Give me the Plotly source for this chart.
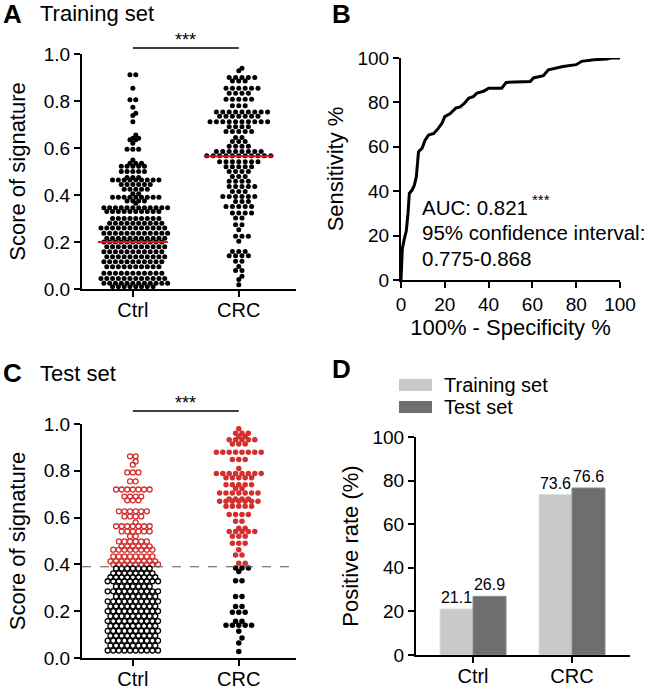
import numpy as np
import plotly.graph_objects as go

# ---- data ----
# panel A: training set scores (row value, number of dots in that row)
ctrl_train_levels = [0.912, 0.854, 0.805, 0.773, 0.748, 0.738, 0.712, 0.655, 0.642, 0.635, 0.62,
                     0.595, 0.549, 0.535, 0.522, 0.50, 0.474, 0.464, 0.445, 0.425, 0.405, 0.39,
                     0.375, 0.365, 0.346, 0.33, 0.30, 0.28, 0.26, 0.237, 0.216, 0.20, 0.18,
                     0.159, 0.137, 0.116, 0.095, 0.067, 0.045, 0.024, 0.01]
ctrl_train_counts = [2, 1, 2, 1, 1, 1, 1, 1, 2, 2, 1,
                     3, 1, 3, 5, 5, 3, 9, 6, 5, 2, 9,
                     4, 1, 12, 10, 9, 10, 12, 12, 11, 11, 11,
                     11, 11, 11, 10, 11, 12, 12, 8]
crc_train_levels = [0.939, 0.929, 0.90, 0.885, 0.854, 0.833, 0.807, 0.78, 0.753, 0.735, 0.712,
                    0.69, 0.67, 0.645, 0.628, 0.607, 0.585, 0.567, 0.542, 0.52, 0.50, 0.479,
                    0.458, 0.436, 0.415, 0.394, 0.372, 0.351, 0.323, 0.302, 0.273, 0.252,
                    0.224, 0.203, 0.16, 0.142, 0.118, 0.096, 0.079, 0.054, 0.04, 0.018]
crc_train_counts = [1, 1, 5, 3, 6, 4, 5, 3, 9, 7, 10,
                    4, 5, 2, 3, 4, 8, 11, 7, 5, 4, 3,
                    4, 5, 3, 6, 3, 5, 4, 2, 2, 1,
                    3, 1, 3, 4, 2, 1, 2, 1, 1, 1]
train_medians = [0.20, 0.565]

# panel B: ROC curve (%)
roc_fpr = [0, 0.3, 0.6, 1.5, 2.4, 3.2, 3.8, 5, 6.1, 7, 7.6, 8, 9.6, 11, 12.6, 15, 17, 18.7,
           20, 22.5, 25, 27, 29, 31, 33, 34.7, 37.7, 40, 46, 48, 59, 60.5, 65, 67.3, 74,
           80, 82.5, 88, 94, 96, 100]
roc_tpr = [0, 6, 14, 18.5, 22, 30, 39, 40.4, 42.7, 46.5, 55.5, 57.8, 59.3, 63, 65.3, 66, 68.3,
           70.6, 73.6, 75, 77.4, 78, 79.6, 82, 82.6, 84.2, 85, 86.4, 86.4, 89, 89.4, 91, 92,
           94.7, 96.2, 97, 98.5, 99.2, 99.5, 100, 100]

# panel C: test set scores
ctrl_test_levels = [0.862, 0.84, 0.826, 0.793, 0.755, 0.72, 0.69, 0.674, 0.627, 0.605, 0.58,
                    0.563, 0.541, 0.52, 0.498, 0.477, 0.463, 0.434, 0.413, 0.40,
                    0.383, 0.362, 0.345, 0.328, 0.306, 0.285, 0.263, 0.242, 0.221, 0.20,
                    0.179, 0.158, 0.137, 0.116, 0.095, 0.074, 0.053, 0.032]
ctrl_test_counts = [2, 1, 1, 3, 2, 7, 4, 3, 6, 4, 1,
                    7, 6, 2, 6, 6, 8, 8, 9, 9,
                    7, 8, 9, 10, 7, 10, 8, 10, 9, 10,
                    9, 10, 9, 10, 9, 10, 9, 10]
crc_test_levels = [0.98, 0.96, 0.947, 0.933, 0.915, 0.879, 0.848, 0.81, 0.788, 0.77, 0.74,
                   0.724, 0.705, 0.68, 0.67, 0.648, 0.613, 0.584, 0.555, 0.541, 0.52, 0.49,
                   0.463, 0.44, 0.405, 0.385, 0.37, 0.33, 0.263, 0.22, 0.195, 0.157, 0.14,
                   0.114, 0.085, 0.064, 0.028]
crc_test_counts = [1, 3, 2, 5, 3, 8, 3, 1, 8, 5, 5,
                   2, 7, 4, 7, 5, 4, 2, 2, 5, 3, 3,
                   1, 2, 2, 3, 1, 2, 2, 2, 3, 2, 5,
                   1, 1, 1, 1]
cutoff = 0.39

# panel D: positive rate (%)
groups = ['Ctrl', 'CRC']
rate_training = [21.1, 73.6]
rate_test = [26.9, 76.6]

FONT = 'Liberation Sans, Arial, sans-serif'
RED = '#d42f2f'
W, H = 653, 689


def px(x):
    return x / W


def py(y):
    return 1 - y / H


def rows(levels, counts, s, xs, ys, d=5.0):
    # GraphPad-like rows: dots of one row side by side, close rows shifted by half a step
    vals, offs = [], []
    last_y, last_phase = None, None
    for lv, n in sorted(zip(levels, counts)):
        phase = ((n - 1) / 2.0) % 1.0
        if last_y is not None and abs(lv - last_y) * ys < d and abs(phase - last_phase) < 1e-6:
            phase = (phase + 0.5) % 1.0
            shift = 0.5
        else:
            shift = 0.0
        for i in range(n):
            vals.append(lv)
            offs.append((i - (n - 1) / 2.0 + shift) * s / xs)
        last_y, last_phase = lv, phase
    return np.array(vals), np.array(offs)


fig = go.Figure()
black = dict(color='black', size=5)

# ---- A ----
ct, oct_ = rows(ctrl_train_levels, ctrl_train_counts, 5.8, 106, 235)
rt, ort = rows(crc_train_levels, crc_train_counts, 6.4, 106, 235)
fig.add_trace(go.Scatter(x=oct_, y=ct, mode='markers', marker=black,
                         xaxis='x', yaxis='y', showlegend=False))
fig.add_trace(go.Scatter(x=1 + ort, y=rt, mode='markers', marker=black,
                         xaxis='x', yaxis='y', showlegend=False))
for k, m in enumerate(train_medians):
    fig.add_trace(go.Scatter(x=[k - 0.33, k + 0.33], y=[m, m], mode='lines',
                             line=dict(color='#e3131b', width=2), xaxis='x', yaxis='y',
                             showlegend=False))

# ---- B ----
fig.add_trace(go.Scatter(x=roc_fpr, y=roc_tpr, mode='lines', line=dict(color='black', width=3),
                         xaxis='x2', yaxis='y2', showlegend=False, cliponaxis=False))

# ---- C ----
cc, oc = rows(ctrl_test_levels, ctrl_test_counts, 5.6, 106, 234)
rc, orc = rows(crc_test_levels, crc_test_counts, 6.4, 106, 234)
hi = cc >= cutoff
fig.add_trace(go.Scatter(x=oc[hi], y=cc[hi], mode='markers',
                         marker=dict(symbol='circle-open', color=RED, size=5, line=dict(width=1.3)),
                         xaxis='x3', yaxis='y3', showlegend=False))
fig.add_trace(go.Scatter(x=oc[~hi], y=cc[~hi], mode='markers',
                         marker=dict(symbol='circle-open', color='black', size=5, line=dict(width=1.3)),
                         xaxis='x3', yaxis='y3', showlegend=False))
hi2 = rc >= cutoff
fig.add_trace(go.Scatter(x=1 + orc[hi2], y=rc[hi2], mode='markers', marker=dict(color=RED, size=5.5),
                         xaxis='x3', yaxis='y3', showlegend=False))
fig.add_trace(go.Scatter(x=1 + orc[~hi2], y=rc[~hi2], mode='markers', marker=dict(color='black', size=5.5),
                         xaxis='x3', yaxis='y3', showlegend=False))
fig.add_trace(go.Scatter(x=[-0.48, 1.54], y=[cutoff, cutoff], mode='lines',
                         line=dict(color='#555555', width=1.2, dash='dash'),
                         xaxis='x3', yaxis='y3', showlegend=False))

# ---- D ----
fig.add_trace(go.Bar(x=groups, y=rate_training, name='Training set', marker_color='#c9c9c9',
                     marker_line=dict(color='#e0e0e0', width=1),
                     texttemplate='%{y:.1f}', textposition='outside', textfont=dict(size=16),
                     cliponaxis=False, xaxis='x4', yaxis='y4', showlegend=False))
fig.add_trace(go.Bar(x=groups, y=rate_test, name='Test set', marker_color='#6e6e6e',
                     marker_line=dict(color='#8a8a8a', width=1),
                     texttemplate='%{y:.1f}', textposition='outside', textfont=dict(size=16),
                     cliponaxis=False, xaxis='x4', yaxis='y4', showlegend=False))

axis = dict(showline=True, linecolor='black', linewidth=2, ticks='outside', ticklen=6,
            tickwidth=2, tickcolor='black', showgrid=False, zeroline=False, automargin=False,
            tickfont=dict(size=19, color='black'))
xcat = dict(tickfont=dict(size=20, color='black'), ticklabelstandoff=-4)
ttl = dict(size=22, color='black')

fig.update_layout(
    template='none',
    width=W, height=H, margin=dict(l=0, r=0, t=0, b=0, autoexpand=False), plot_bgcolor='white',
    paper_bgcolor='white', font=dict(family=FONT, color='black'),
    barmode='group', bargap=0.333, bargroupgap=0,
    xaxis=dict(axis, **xcat, domain=[px(82), px(296)], range=[-0.48, 1.54], tickvals=[0, 1],
               ticktext=groups, anchor='y'),
    yaxis=dict(axis, domain=[py(289), py(54)], range=[0, 1], tickvals=[0, 0.2, 0.4, 0.6, 0.8, 1.0],
               tickformat='.1f', anchor='x', title=dict(text='Score of signature', font=ttl, standoff=12)),
    xaxis2=dict(axis, domain=[px(401), px(620)], range=[0, 100], dtick=20, anchor='y2',
                title=dict(text='100% - Specificity %', font=ttl, standoff=6)),
    yaxis2=dict(axis, domain=[py(280), py(58)], range=[0, 100], dtick=20, anchor='x2',
                title=dict(text='Sensitivity %', font=ttl, standoff=8)),
    xaxis3=dict(axis, **xcat, domain=[px(82), px(296)], range=[-0.48, 1.54], tickvals=[0, 1],
                ticktext=groups, anchor='y3'),
    yaxis3=dict(axis, domain=[py(658), py(424)], range=[0, 1], tickvals=[0, 0.2, 0.4, 0.6, 0.8, 1.0],
                tickformat='.1f', anchor='x3', title=dict(text='Score of signature', font=ttl, standoff=12)),
    xaxis4=dict(axis, **xcat, domain=[px(416), px(630)], range=[-0.576, 1.586], anchor='y4'),
    yaxis4=dict(axis, domain=[py(655), py(437)], range=[0, 100], dtick=20, anchor='x4',
                title=dict(text='Positive rate (%)', font=ttl, standoff=8)),
)

# significance bars
for xr, yl in [('x', 48), ('x3', 411)]:
    fig.add_shape(type='line', xref=xr, yref='paper', x0=0, x1=1, y0=py(yl), y1=py(yl),
                  line=dict(color='black', width=1.5))
    fig.add_annotation(x=0.5, xref=xr, y=py(yl), yref='paper', text='***', showarrow=False,
                       yanchor='bottom', yshift=-4, font=dict(size=18))

# panel letters and titles
for letter, x, y in [('A', 1, 14), ('B', 330, 14), ('C', 1, 373), ('D', 330, 369)]:
    fig.add_annotation(x=px(x), y=py(y), xref='paper', yref='paper', text='<b>%s</b>' % letter,
                       showarrow=False, xanchor='left', yanchor='middle', font=dict(size=26))
for t, y in [('Training set', 14), ('Test set', 373)]:
    fig.add_annotation(x=px(38), y=py(y), xref='paper', yref='paper', text=t, showarrow=False,
                       xanchor='left', yanchor='middle', font=dict(size=22))

# AUC text
for t, y in [('AUC: 0.821', 208), ('95% confidence interval:', 233), ('0.775-0.868', 258)]:
    fig.add_annotation(x=px(420), y=py(y), xref='paper', yref='paper', text=t, showarrow=False,
                       xanchor='left', yanchor='middle', font=dict(size=20.5))
fig.add_annotation(x=px(530), y=py(199), xref='paper', yref='paper', text='***', showarrow=False,
                   xanchor='left', yanchor='middle', font=dict(size=15))

# legend for D
for (name, col, y) in [('Training set', '#c9c9c9', 385), ('Test set', '#6e6e6e', 407)]:
    fig.add_shape(type='rect', xref='paper', yref='paper', x0=px(399), x1=px(432),
                  y0=py(y - 6), y1=py(y + 6), fillcolor=col, line=dict(width=0))
    fig.add_annotation(x=px(442), y=py(y), xref='paper', yref='paper', text=name, showarrow=False,
                       xanchor='left', yanchor='middle', font=dict(size=20))

# page body has a default 8px margin; drop it so the figure sits at the window corner
fig.write_html("out.html", config={'displayModeBar': False},
               post_script="document.body.style.margin='0';")
